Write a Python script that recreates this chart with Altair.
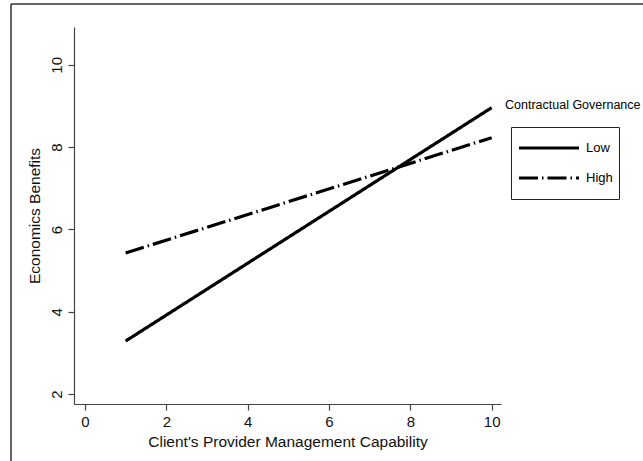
import altair as alt
import pandas as pd

# Predicted economic benefits at the ends of the capability range
capability = [1, 10]
benefits_low = [3.29, 8.96]
benefits_high = [5.43, 8.23]
governance_levels = ["Low", "High"]

x_ticks = [0, 2, 4, 6, 8, 10]
y_ticks = [2, 4, 6, 8, 10]

rows = []
for level, values in zip(governance_levels, [benefits_low, benefits_high]):
    for cx, cy in zip(capability, values):
        rows.append({"capability": cx, "benefit": cy, "governance": level})
df = pd.DataFrame(rows)

FONT = "Liberation Sans"
W, H = 427, 377

x_enc = alt.X(
    "capability:Q",
    scale=alt.Scale(domain=[-0.27, 10.23], nice=False, zero=False),
    axis=alt.Axis(values=x_ticks, title="Client's Provider Management Capability",
                  format="d", labelFontSize=15, titleFontSize=15.5,
                  labelPadding=4, titlePadding=5),
)
y_enc = alt.Y(
    "benefit:Q",
    scale=alt.Scale(domain=[1.76, 10.92], nice=False, zero=False),
    axis=alt.Axis(values=y_ticks, title="Economics Benefits", format="d",
                  labelAngle=270, labelAlign="center", labelBaseline="bottom",
                  labelFontSize=15, titleFontSize=15.5,
                  labelPadding=4, titlePadding=7),
)

lines = alt.Chart(df).mark_line(strokeWidth=3.2, color="black", strokeCap="butt").encode(
    x=x_enc,
    y=y_enc,
    strokeDash=alt.StrokeDash(
        "governance:N",
        scale=alt.Scale(domain=governance_levels, range=[[1, 0], [19, 4, 1.5, 4]]),
        legend=alt.Legend(
            title=None, orient="none", legendX=437, legendY=100,
            symbolType="stroke", symbolSize=3600, symbolStrokeWidth=3.2,
            symbolStrokeColor="black", clipHeight=30, rowPadding=-2,
            padding=6, strokeColor="#222", labelFontSize=13, labelFont=FONT,
            labelColor="black", labelOffset=5,
        ),
    ),
    detail="governance:N",
)

legend_title = alt.Chart(pd.DataFrame({"t": ["Contractual Governance"]})).mark_text(
    align="left", baseline="middle", fontSize=12.5, font=FONT, color="black"
).encode(text="t:N", x=alt.value(431), y=alt.value(78))

frame_top = alt.Chart(pd.DataFrame({"a": [0]})).mark_rule(color="#333", strokeWidth=1.5).encode(
    x=alt.value(-63), x2=alt.value(700), y=alt.value(-23)
)
frame_left = alt.Chart(pd.DataFrame({"a": [0]})).mark_rule(color="#333", strokeWidth=1.5).encode(
    x=alt.value(-63), y=alt.value(-23), y2=alt.value(500)
)

chart = (
    alt.layer(frame_top, frame_left, lines, legend_title)
    .properties(
        width=W, height=H,
        autosize=alt.AutoSizeParams(type="none"),
        padding={"left": 74, "top": 27, "right": 643 - 74 - W, "bottom": 461 - 27 - H},
        background="white",
    )
    .configure_view(stroke=None)
    .configure_axis(
        grid=False, domainColor="#444", tickColor="#444", tickSize=6,
        domainWidth=1.2, tickWidth=1.2,
        labelFont=FONT, titleFont=FONT, labelColor="#111", titleColor="#111",
        titleFontWeight="normal",
    )
)

chart.save("out.html", embed_options={"renderer": "svg", "actions": False})
